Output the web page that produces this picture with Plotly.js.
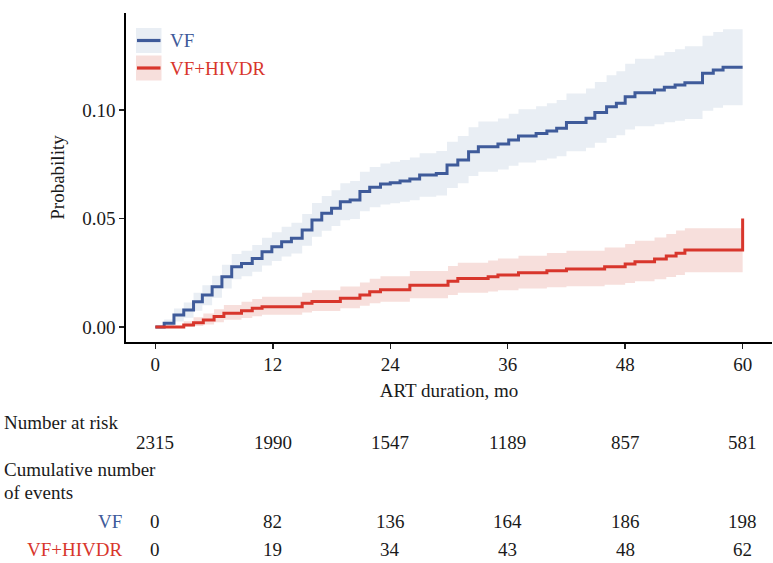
<!DOCTYPE html>
<html>
<head>
<meta charset="utf-8">
<script src="https://cdn.plot.ly/plotly-3.0.1.min.js"></script>
<style>
  html, body { margin: 0; padding: 0; background: #ffffff; }
  #chart { width: 773px; height: 563px; }
</style>
</head>
<body>
<div id="chart"></div>
<script>
// ---- Data ----
const vfTimes = [0, 0.9, 1.9, 2.9, 3.9, 4.8, 5.8, 6.8, 7.8, 8.8, 9.9, 10.9, 11.9, 12.9, 13.9, 15.0, 16.0, 17.0, 18.0, 18.9, 19.9, 20.9, 21.9, 23.0, 24.0, 25.0, 26.0, 27.0, 28.7, 29.8, 30.9, 32.0, 33.0, 35.0, 36.1, 37.1, 38.9, 40.0, 41.0, 42.0, 44.0, 44.9, 46.1, 47.1, 48.0, 49.0, 51.0, 52.0, 53.1, 54.1, 55.9, 57.0, 58.0, 60.0];
const vfProb  = [0, 0.0017, 0.0055, 0.0078, 0.0117, 0.0147, 0.0186, 0.0232, 0.0278, 0.0293, 0.0316, 0.0347, 0.0370, 0.0393, 0.0409, 0.0447, 0.0493, 0.0524, 0.0547, 0.0577, 0.0585, 0.0624, 0.0644, 0.0659, 0.0665, 0.0673, 0.0682, 0.0700, 0.0708, 0.0747, 0.0770, 0.0808, 0.0831, 0.0843, 0.0862, 0.0880, 0.0892, 0.0903, 0.0916, 0.0942, 0.0962, 0.0988, 0.1015, 0.1031, 0.1061, 0.1080, 0.1092, 0.1105, 0.1115, 0.1126, 0.1169, 0.1184, 0.1197, 0.1197];
const vfLower = [0, 0.0002, 0.0025, 0.0043, 0.0075, 0.0100, 0.0135, 0.0177, 0.0220, 0.0234, 0.0255, 0.0283, 0.0304, 0.0325, 0.0339, 0.0374, 0.0416, 0.0444, 0.0465, 0.0492, 0.0498, 0.0534, 0.0552, 0.0565, 0.0570, 0.0577, 0.0584, 0.0600, 0.0606, 0.0641, 0.0662, 0.0696, 0.0716, 0.0726, 0.0743, 0.0758, 0.0768, 0.0776, 0.0787, 0.0810, 0.0826, 0.0849, 0.0871, 0.0884, 0.0910, 0.0925, 0.0934, 0.0944, 0.0951, 0.0959, 0.0997, 0.1010, 0.1022, 0.1022];
const vfUpper = [0, 0.0035, 0.0085, 0.0113, 0.0158, 0.0192, 0.0236, 0.0287, 0.0336, 0.0352, 0.0378, 0.0411, 0.0437, 0.0462, 0.0480, 0.0521, 0.0571, 0.0604, 0.0630, 0.0663, 0.0673, 0.0715, 0.0737, 0.0754, 0.0761, 0.0770, 0.0781, 0.0801, 0.0811, 0.0854, 0.0880, 0.0921, 0.0947, 0.0961, 0.0983, 0.1003, 0.1017, 0.1031, 0.1046, 0.1076, 0.1099, 0.1129, 0.1160, 0.1179, 0.1213, 0.1236, 0.1251, 0.1267, 0.1280, 0.1294, 0.1342, 0.1359, 0.1372, 0.1372];

const drTimes = [0, 2.9, 3.9, 4.9, 6.0, 7.0, 8.8, 9.9, 10.9, 15.0, 16.0, 18.9, 20.9, 21.9, 23.0, 26.0, 29.9, 30.9, 34.0, 35.0, 37.1, 40.0, 42.0, 45.9, 48.0, 49.0, 51.0, 52.2, 53.2, 54.1, 60.0];
const drProb  = [0, 0.0009, 0.0020, 0.0032, 0.0048, 0.0063, 0.0075, 0.0086, 0.0094, 0.0109, 0.0118, 0.0133, 0.0148, 0.0162, 0.0172, 0.0192, 0.0211, 0.0224, 0.0232, 0.0240, 0.0250, 0.0259, 0.0267, 0.0278, 0.0290, 0.0301, 0.0313, 0.0327, 0.0340, 0.0355, 0.0355];
const drLower = [0, 0.0001, 0.0005, 0.0012, 0.0022, 0.0033, 0.0042, 0.0050, 0.0056, 0.0067, 0.0074, 0.0086, 0.0098, 0.0109, 0.0117, 0.0133, 0.0148, 0.0158, 0.0164, 0.0170, 0.0177, 0.0183, 0.0188, 0.0195, 0.0203, 0.0211, 0.0220, 0.0230, 0.0240, 0.0252, 0.0252];
const drUpper = [0, 0.0027, 0.0045, 0.0062, 0.0082, 0.0101, 0.0116, 0.0129, 0.0139, 0.0158, 0.0169, 0.0187, 0.0205, 0.0222, 0.0234, 0.0258, 0.0281, 0.0296, 0.0306, 0.0316, 0.0329, 0.0341, 0.0352, 0.0367, 0.0383, 0.0397, 0.0412, 0.0429, 0.0445, 0.0455, 0.0455];
const drFinalJump = 0.050; // last event at 60 mo

const seriesNames = ["VF", "VF+HIVDR"];
const tableMonths = [0, 12, 24, 36, 48, 60];
const numberAtRisk = [2315, 1990, 1547, 1189, 857, 581];
const cumEventsVF = [0, 82, 136, 164, 186, 198];
const cumEventsDR = [0, 19, 34, 43, 48, 62];
const xTicks = [0, 12, 24, 36, 48, 60];
const yTicks = [0, 0.05, 0.10];

// ---- Styling ----
const BLUE = "#3f5b9a", BLUE_BAND = "#e9eef4";
const RED = "#d8362c", RED_BAND = "#f7dfdc";
const FONT = "Liberation Serif, Times New Roman, serif";
const FS = 19;
const TXT = "#1a1a1a";

function band(times, lo, hi, color) {
  return [
    {x: times, y: lo, type: "scatter", mode: "lines", line: {shape: "hv", width: 0, color: color},
     hoverinfo: "skip", showlegend: false},
    {x: times, y: hi, type: "scatter", mode: "lines", line: {shape: "hv", width: 0, color: color},
     fill: "tonexty", fillcolor: color, hoverinfo: "skip", showlegend: false}
  ];
}

const traces = [
  ...band(vfTimes, vfLower, vfUpper, BLUE_BAND),
  ...band(drTimes, drLower, drUpper, RED_BAND),
  {x: vfTimes, y: vfProb, type: "scatter", mode: "lines", name: seriesNames[0],
   line: {shape: "hv", width: 3, color: BLUE}, showlegend: false},
  {x: drTimes.concat([drTimes[drTimes.length - 1]]), y: drProb.concat([drFinalJump]),
   type: "scatter", mode: "lines", name: seriesNames[1],
   line: {shape: "hv", width: 3, color: RED}, showlegend: false}
];

// ---- Legend (drawn inside the panel, top-left) ----
const shapes = [];
const annotations = [];
const legendColors = [[BLUE, BLUE_BAND], [RED, RED_BAND]];
seriesNames.forEach((nm, i) => {
  const top = -15 - i * 27.5;
  shapes.push({type: "rect", xref: "paper", yref: "paper", xsizemode: "pixel", ysizemode: "pixel",
    xanchor: 0, yanchor: 1, x0: 10, x1: 35.5, y0: top, y1: top - 25,
    fillcolor: legendColors[i][1], line: {width: 0}, layer: "above"});
  shapes.push({type: "line", xref: "paper", yref: "paper", xsizemode: "pixel", ysizemode: "pixel",
    xanchor: 0, yanchor: 1, x0: 11, x1: 34.5, y0: top - 12.5, y1: top - 12.5,
    line: {color: legendColors[i][0], width: 3.2}, layer: "above"});
  annotations.push({xref: "paper", yref: "paper", x: 0, y: 1, xshift: 42, yshift: top - 12.5,
    xanchor: "left", yanchor: "middle", showarrow: false, text: nm,
    font: {family: FONT, size: FS, color: legendColors[i][0]}});
});

// ---- Risk table below the plot ----
function leftLabel(text, yshift) {
  annotations.push({xref: "paper", yref: "paper", x: 0, y: 0, xshift: -124, yshift: yshift,
    xanchor: "left", yanchor: "middle", showarrow: false, text: text, align: "left",
    font: {family: FONT, size: FS, color: TXT}});
}
function rowLabel(text, yshift, color) {
  annotations.push({xref: "paper", yref: "paper", x: 0, y: 0, xshift: -2, yshift: yshift,
    xanchor: "right", yanchor: "middle", showarrow: false, text: text,
    font: {family: FONT, size: FS, color: color}});
}
function row(values, yshift) {
  values.forEach((v, i) => {
    annotations.push({xref: "x", yref: "paper", x: tableMonths[i], y: 0, yshift: yshift,
      xanchor: "center", yanchor: "middle", showarrow: false, text: String(v),
      font: {family: FONT, size: FS, color: TXT}});
  });
}
leftLabel("Number at risk", -80);
row(numberAtRisk, -100);
leftLabel("Cumulative number", -127);
leftLabel("of events", -150);
rowLabel(seriesNames[0], -179, BLUE);
row(cumEventsVF, -179);
rowLabel(seriesNames[1], -207, RED);
row(cumEventsDR, -207);

const layout = {
  width: 773, height: 563,
  margin: {l: 126, r: 1, t: 13, b: 221},
  paper_bgcolor: "#ffffff", plot_bgcolor: "#ffffff",
  font: {family: FONT, size: FS, color: TXT},
  showlegend: false,
  xaxis: {
    range: [-3, 63], tickvals: xTicks, ticktext: xTicks.map(String),
    showgrid: false, zeroline: false, showline: true, linecolor: "#000", linewidth: 1.6,
    ticks: "outside", ticklen: 5, tickwidth: 1.4, tickcolor: "#222",
    tickfont: {family: FONT, size: FS, color: TXT},
    title: {text: "ART duration, mo", font: {family: FONT, size: FS, color: TXT}, standoff: 9}
  },
  yaxis: {
    range: [-0.0069, 0.1447], tickvals: yTicks, tickformat: ".2f",
    showgrid: false, zeroline: false, showline: true, linecolor: "#000", linewidth: 1.6,
    ticks: "outside", ticklen: 5, tickwidth: 1.4, tickcolor: "#222",
    tickfont: {family: FONT, size: FS, color: TXT},
    title: {text: "Probability", font: {family: FONT, size: FS, color: TXT}, standoff: 12}
  },
  shapes: shapes,
  annotations: annotations
};

Plotly.newPlot("chart", traces, layout, {staticPlot: true, displayModeBar: false});
</script>
</body>
</html>
